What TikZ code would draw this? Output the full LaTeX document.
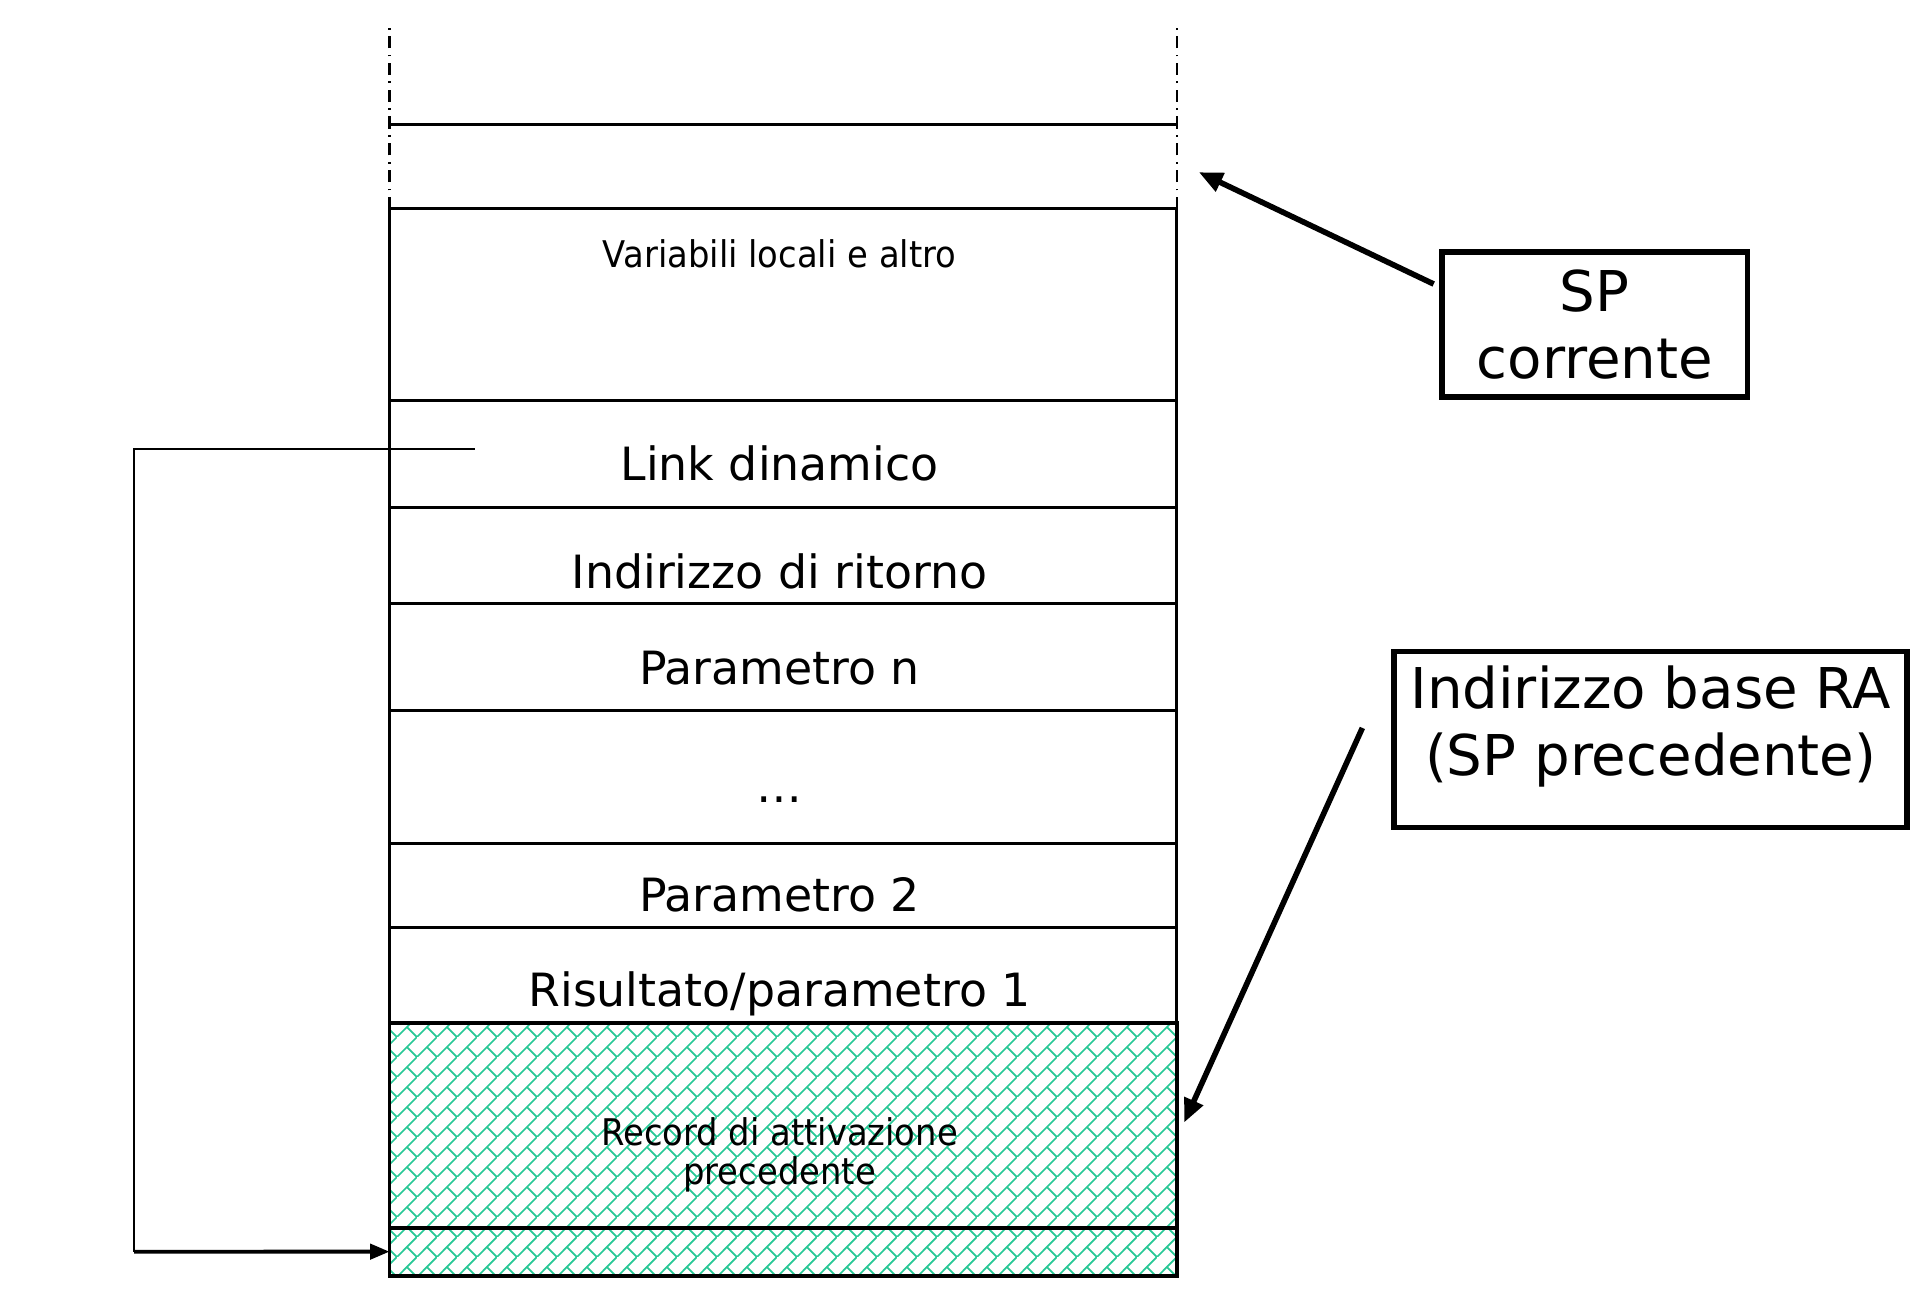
\documentclass[tikz,border=0pt]{standalone}
\usepackage{fontspec}
\setmainfont{DejaVu Sans}
\newfontfamily\narrowfont[FakeStretch=0.92]{DejaVu Sans}
\usetikzlibrary{arrows.meta,positioning,patterns}
\definecolor{hatchgreen}{RGB}{40,200,150}

% brick hatch of the old record
\pgfdeclarepatternformonly{shingles}{\pgfpointorigin}{\pgfqpoint{4.6pt}{4.6pt}}{\pgfqpoint{4.6pt}{4.6pt}}{%
  \pgfsetlinewidth{0.4pt}
  \pgfpathmoveto{\pgfqpoint{0pt}{0pt}}\pgfpathlineto{\pgfqpoint{4.6pt}{4.6pt}}
  \pgfpathmoveto{\pgfqpoint{2.3pt}{2.3pt}}\pgfpathlineto{\pgfqpoint{4.6pt}{0pt}}
  \pgfusepath{stroke}}

\begin{document}
\begin{tikzpicture}[x=0.01cm,y=-0.01cm,>={Triangle[length=5.5pt,width=4.5pt]},
    cell/.style={draw,minimum width=6.4cm,inner sep=0pt,outer sep=0pt,line width=0.7pt},
    old cell/.style={cell,pattern=shingles,pattern color=hatchgreen,line width=0.9pt},
    cell text/.style={font=\fontsize{10.6}{12.7}\selectfont},
    small text/.style={font=\narrowfont\fontsize{8.5}{9.1}\selectfont,align=center},
    pointer box/.style={draw,line width=1.3pt,inner sep=0pt,font=\fontsize{13}{15.5}\selectfont,align=center},
    pointer/.style={->,line width=1.3pt}]
  \useasboundingbox (0,0) rectangle (1568,1054);

  % the stack
  \node[cell,minimum height=1.56cm] (vars) at (637,248) {};
  \node[cell,minimum height=0.87cm,below=0pt of vars] (link) {};
  \node[cell,minimum height=0.78cm,below=0pt of link] (ret) {};
  \node[cell,minimum height=0.87cm,below=0pt of ret] (parn) {};
  \node[cell,minimum height=1.08cm,below=0pt of parn] (dots) {};
  \node[cell,minimum height=0.68cm,below=0pt of dots] (par2) {};
  \node[cell,minimum height=0.78cm,below=0pt of par2] (res) {};
  \node[old cell,minimum height=1.66cm,below=0pt of res] (prev) {};
  \node[old cell,minimum height=0.39cm,below=0pt of prev] (base) {};

  % free space on top
  \draw[line width=0.6pt,dash pattern=on 2.8pt off 1.5pt on 0.4pt off 1.5pt]
    (vars.north west) -- ++(0,-148)
    (vars.north east) -- ++(0,-148);
  \draw[line width=0.7pt] (317,101) -- (957,101);

  \node[small text] (t vars) at (634,206) {Variabili locali e altro};
  \node[cell text] (t link) at (634,377) {Link dinamico};
  \node[cell text] (t ret) at (634,465) {Indirizzo di ritorno};
  \node[cell text] (t parn) at (634,543) {Parametro n};
  \node[cell text] (t dots) at (634,650) {…};
  \node[cell text] (t par2) at (634,728) {Parametro 2};
  \node[cell text] (t res) at (634,808) {Risultato/parametro 1};
  \node[small text] (t prev) at (634,939) {Record di attivazione\\precedente};

  % dynamic link
  \coordinate (dl start) at (386,365);
  \coordinate (dl corner) at (109,1018);
  \draw[line width=0.5pt] (dl start) -| (dl corner);
  \draw[-{Triangle[length=4.5pt,width=3.5pt]},line width=0.9pt] (dl corner) -- (base.west);

  % stack pointers
  \node[pointer box,minimum width=2.48cm,minimum height=1.18cm] (spbox) at (1297,264) {SP\\corrente};
  \node[pointer box,minimum width=4.17cm,minimum height=1.43cm] (rabox) at (1342.5,601.5) {};
  \node[font=\fontsize{13}{15.6}\selectfont,align=center] (t ra) at (1342.5,591) {Indirizzo base RA\\(SP precedente)};

  \coordinate (sp tail) at (1166,231);
  \coordinate (sp tip) at (975,140);
  \coordinate (ra tail) at (1108,592);
  \coordinate (ra tip) at (963,913);
  \draw[pointer] (sp tail) -- (sp tip);
  \draw[pointer] (ra tail) -- (ra tip);
\end{tikzpicture}
\end{document}
